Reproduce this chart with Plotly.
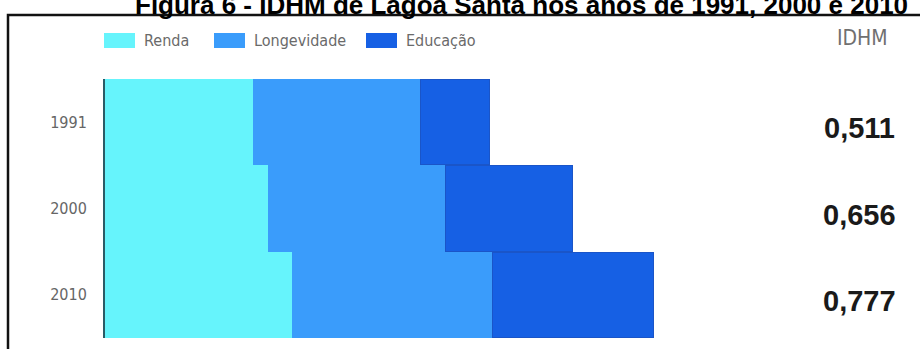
import plotly.graph_objects as go

# Sub-indices of IDHM for Lagoa Santa (stacked horizontally per year)
anos = ["1991", "2000", "2010"]
renda = [0.630, 0.694, 0.796]
longevidade = [0.711, 0.757, 0.855]
educacao = [0.294, 0.540, 0.685]
idhm_labels = ["0,511", "0,656", "0,777"]

series_names = ["Renda", "Longevidade", "Educação"]
series_colors = ["#66F4FC", "#3A9CFB", "#1660E4"]
series_lines = ["#66F4FC", "#3A9CFB", "#1A55C8"]

W, H = 920, 349
ML, MR, MT, MB = 105, 0, 79, 11
PW, PH = W - ML - MR, H - MT - MB

NARROW = "DejaVu Sans Condensed, Liberation Sans Narrow, Liberation Sans, sans-serif"
BOLD = "Liberation Sans, Arial, sans-serif"


def px_x(x):
    return (x - ML) / PW


def px_y(y):
    return (H - MB - y) / PH


fig = go.Figure()
for name, vals, col, lc in zip(series_names, [renda, longevidade, educacao],
                               series_colors, series_lines):
    fig.add_trace(go.Bar(
        y=anos, x=vals, name=name, orientation="h",
        marker=dict(color=col, line=dict(color=lc, width=1)),
        showlegend=False,
    ))

shapes = []
annotations = []

# outer frame (only its left and top edges fall inside the page)
shapes.append(dict(type="rect", xref="paper", yref="paper",
                   x0=px_x(8), x1=px_x(W + 20), y0=px_y(H + 20), y1=px_y(15),
                   line=dict(color="#111111", width=2.5), fillcolor="rgba(0,0,0,0)",
                   layer="below"))

# legend swatches and labels
legend_boxes = [(104, 142), (214, 252), (366, 404)]
for (bx, tx), name, col in zip(legend_boxes, series_names, series_colors):
    shapes.append(dict(type="rect", xref="paper", yref="paper",
                       x0=px_x(bx), x1=px_x(bx + 31), y0=px_y(48), y1=px_y(33),
                       line=dict(width=0), fillcolor=col))
    annotations.append(dict(text=name, xref="paper", yref="paper",
                            x=px_x(tx), y=px_y(40.5), xanchor="left", yanchor="middle",
                            showarrow=False,
                            font=dict(family=NARROW, size=16, color="#6a6a6a")))

annotations.append(dict(text="IDHM", xref="paper", yref="paper",
                        x=px_x(862), y=px_y(38), xanchor="center", yanchor="middle",
                        showarrow=False,
                        font=dict(family=NARROW, size=21, color="#707070")))

# IDHM value of each year, to the right of its row (category index on y)
for i, lab in enumerate(idhm_labels):
    annotations.append(dict(text=f"<b>{lab}</b>", xref="paper", yref="y",
                            x=px_x(859), y=i, xanchor="center", yanchor="middle",
                            yshift=-6, showarrow=False,
                            font=dict(family=BOLD, size=29, color="#1a1a1a")))

annotations.append(dict(text="<b>Figura 6 - IDHM de Lagoa Santa nos anos de 1991, 2000 e 2010</b>",
                        xref="paper", yref="paper", x=px_x(133), y=px_y(22),
                        xanchor="left", yanchor="bottom", showarrow=False,
                        font=dict(family=BOLD, size=26, color="#000000")))

fig.update_layout(
    width=W, height=H,
    margin=dict(l=ML, r=MR, t=MT, b=MB),
    barmode="stack", bargap=0.015,
    paper_bgcolor="white", plot_bgcolor="white",
    shapes=shapes, annotations=annotations,
    xaxis=dict(range=[0, PW / 235.0], visible=False, fixedrange=True),
    yaxis=dict(type="category", categoryorder="array", categoryarray=anos,
               range=[len(anos) - 0.5, -0.5], showline=True,
               linecolor="#2a5c66", linewidth=2,
               showgrid=False, ticks="", ticklabelstandoff=13,
               tickfont=dict(family=NARROW, size=16, color="#666666")),
)

fig.write_html("out.html")
